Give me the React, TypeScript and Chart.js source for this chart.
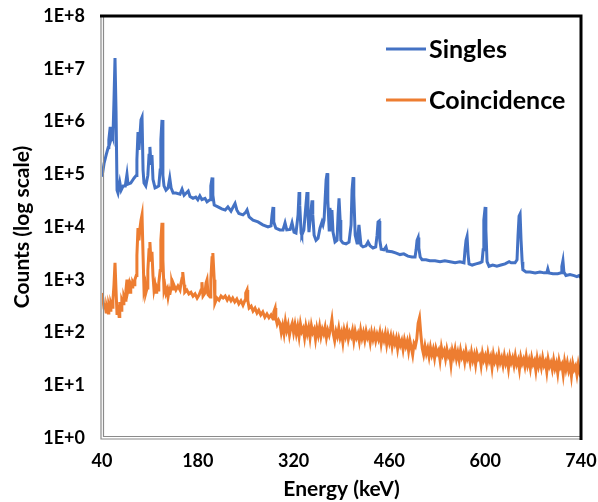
import React, { useEffect, useRef } from 'react';
import { Chart, registerables } from 'chart.js';
Chart.register(...registerables);

const seriesLabels = ['Singles', 'Coincidence'];
const seriesColors = ['#4472C4', '#ED7D31'];
const xTickValues = [40, 180, 320, 460, 600, 740];
const yTickExponents = [0, 1, 2, 3, 4, 5, 6, 7, 8];

const singlesEnergy = [
  40, 43, 46, 49, 50, 52, 53, 55, 56, 57.5,
  59, 60.5, 62, 63.4, 66, 68, 71, 74, 76.5, 78,
  82, 87, 90, 91, 92.6, 94, 95.5, 97, 98.5, 100,
  101.4, 104, 107, 108.7, 110, 111.6, 113, 114.5, 117.5, 120,
  123, 125, 126, 127.7, 129, 130.6, 133.5, 136.5, 139, 141,
  144, 148, 154, 157, 160, 166, 168.6, 173, 177, 180,
  183, 186, 190.5, 193.5, 198, 199, 201, 202, 204, 209.5,
  215, 220, 224, 228.5, 233, 234.4, 237, 240, 246, 250,
  252, 255, 260.7, 268, 275, 282.6, 287, 288.5, 290, 291,
  294, 300, 304.5, 307.5, 310, 315, 317.7, 320.6, 323.5, 326.5,
  328, 329, 331, 332, 335, 338, 339.6, 341, 342.5, 345.5,
  347, 348, 350, 352.8, 355.7, 358.6, 361.5, 363, 364.5, 366,
  367.5, 369, 370, 372, 373, 374.7, 376, 377.6, 380.5, 383.5,
  385, 386.4, 388, 389, 392, 396.6, 401, 404, 405.4, 407,
  408, 410, 412.7, 414, 415.5, 417, 418.5, 421.4, 425.8, 428.8,
  431.7, 436, 440, 442, 443.4, 445, 446, 448, 452, 455,
  456.5, 464, 470, 475.5, 481, 487, 493, 497.5, 499, 500.4,
  502, 503, 505, 507.7, 513.5, 519, 526.7, 534, 541, 548.6,
  556, 563, 569, 570.5, 572, 573.5, 575, 576.4, 581, 586.6,
  592.5, 595.4, 597, 598, 600, 601, 602.7, 605.6, 611, 617,
  623, 629, 635, 638, 643.6, 646.5, 648, 649.5, 651, 652.4,
  654, 655, 659.7, 665.5, 673, 680, 686, 690, 691.5, 693,
  699, 706, 711, 712, 713.6, 715, 718, 724, 730, 734,
  737, 740,
];
const singlesCounts = [
  9e4, 1.6e5, 2.3e5, 3.2e5, 4.5e5, 7.9e5, 4.5e5, 5.5e5, 5e5, 2.5e6,
  1.6e7, 1.6e6, 5e4, 4.4e4, 7e4, 5e4, 6e4, 6e4, 1e5, 6.5e4,
  6.8e4, 8.5e4, 9.5e4, 1.9e5, 6.3e5, 2.9e5, 5.5e5, 1.07e6, 1.2e6, 1.2e5,
  6.8e4, 6e4, 9.5e4, 2.3e5, 3.3e5, 1.5e5, 2.3e5, 8e4, 5.5e4, 5.7e4,
  6e4, 1.2e5, 4.5e5, 1.07e6, 9.5e4, 6e4, 5e4, 5.5e4, 8.5e4, 5.5e4,
  4.4e4, 4.4e4, 4.2e4, 5.2e4, 4e4, 4.8e4, 3.8e4, 3.5e4, 3.7e4, 3.3e4,
  3.9e4, 3.3e4, 3.5e4, 3e4, 3.3e4, 6e4, 8.7e4, 4e4, 2.6e4, 2.4e4,
  2.2e4, 2.1e4, 2.4e4, 2e4, 2.6e4, 2.8e4, 2.1e4, 1.8e4, 1.7e4, 1.9e4,
  2.1e4, 1.55e4, 1.35e4, 1.25e4, 1.1e4, 1e4, 1.05e4, 1.7e4, 2.4e4, 1.25e4,
  9.5e3, 8.8e3, 8.8e3, 1.2e4, 8.8e3, 9e3, 1.2e4, 8e3, 7.7e3, 1.7e4,
  4.6e4, 2.6e4, 7.7e3, 7e3, 8.8e3, 2.6e4, 4.6e4, 1.7e4, 8e3, 2.1e4,
  3.2e4, 1.7e4, 7e3, 5.6e3, 6.1e3, 9.5e3, 1.25e4, 1.1e4, 1.35e4, 3.2e4,
  7.8e4, 1.05e5, 3.2e4, 8.8e3, 2.3e4, 1.7e4, 2.1e4, 8e3, 5.2e3, 5.6e3,
  1.7e4, 3.5e4, 1.35e4, 5.6e3, 5e3, 4.8e3, 5.2e3, 1.1e4, 5e4, 8.8e4,
  4e4, 7e3, 5e3, 7e3, 1.1e4, 7e3, 4.5e3, 4.2e3, 4.4e3, 5.2e3,
  4.4e3, 4e3, 4.2e3, 7e3, 1.25e4, 1.3e4, 5.6e3, 3.8e3, 3.7e3, 4.2e3,
  3.5e3, 3.4e3, 3.2e3, 3e3, 3.1e3, 2.8e3, 2.7e3, 2.7e3, 3.7e3, 5.6e3,
  6.3e3, 4e3, 2.7e3, 2.4e3, 2.4e3, 2.3e3, 2.3e3, 2.2e3, 2.3e3, 2.2e3,
  2.1e3, 2.2e3, 2.1e3, 3.7e3, 5.6e3, 6.6e3, 3e3, 2e3, 1.9e3, 2e3,
  2.1e3, 2.2e3, 3.7e3, 1.35e4, 2.4e4, 8.8e3, 2.2e3, 1.8e3, 1.9e3, 1.8e3,
  1.9e3, 2e3, 2.2e3, 2.1e3, 2.1e3, 2.4e3, 7e3, 1.6e4, 1.76e4, 5.6e3,
  2.2e3, 1.55e3, 1.4e3, 1.4e3, 1.35e3, 1.4e3, 1.35e3, 1.35e3, 1.6e3, 1.35e3,
  1.3e3, 1.3e3, 1.35e3, 1.8e3, 2.3e3, 1.4e3, 1.2e3, 1.25e3, 1.2e3, 1.15e3,
  1.2e3, 1.1e3,
];

const coincLowEnergy = [
  40, 41.5, 43, 44, 46, 47, 49, 50, 52, 53,
  55, 56, 57.5, 59, 60.5, 62, 63.4, 65, 66, 68,
  69, 71, 72, 74, 75, 76.5, 78, 79.5, 81, 82,
  84, 85, 87, 88, 90, 91, 92.6, 94, 95.5, 97,
  98.5, 100, 101.4, 103, 104, 106, 107, 108.7, 110, 111.6,
  113, 114.5, 116, 117.5, 119, 120, 122, 123, 125, 126,
  127.7, 129, 130.6, 132, 133.5, 135, 136.5, 138, 139, 141,
  142, 144, 145, 148, 151, 154, 155.5, 157, 158, 160,
  161, 164, 167, 170, 173, 176, 179, 182, 184.7, 186,
  187.6, 190.5, 192, 193.5, 195, 198, 199, 200.8, 202, 204,
  205, 208, 211, 214, 217, 220, 223, 225.6, 228.5, 231,
  234, 237, 240, 243, 246, 249, 250, 252, 253, 255,
  258, 260.7, 263.6, 266.5, 269, 272, 275, 278, 281, 284,
  287, 290, 291, 293, 294, 296, 298,
];
const coincLowCounts = [
  560, 410, 290, 360, 245, 300, 235, 330, 265, 360,
  300, 410, 800, 2100, 640, 215, 330, 200, 380, 265,
  410, 350, 490, 410, 640, 1000, 640, 800, 580, 830,
  730, 900, 800, 1000, 1200, 2900, 9500, 5600, 9500, 13500,
  17000, 2900, 640, 800, 560, 700, 1500, 3700, 5200, 2200,
  3400, 1200, 640, 800, 580, 730, 640, 870, 1500, 5600,
  12000, 2400, 640, 760, 560, 640, 470, 610, 520, 700,
  870, 670, 800, 640, 760, 640, 870, 1070, 1400, 800,
  580, 640, 540, 580, 490, 540, 450, 520, 640, 900,
  490, 560, 870, 1000, 520, 470, 1000, 2600, 3200, 1000,
  360, 450, 410, 490, 450, 490, 410, 470, 400, 450,
  380, 430, 350, 400, 330, 410, 560, 640, 410, 290,
  315, 255, 290, 235, 265, 215, 245, 195, 225, 190,
  215, 180, 245, 290, 190, 145, 170,
];

const coincGridStart = 300;
const coincGridStep = 2;
const coincGridCounts = [
  150, 100, 135, 95, 160, 110, 140, 90, 125, 150,
  100, 140, 95, 130, 85, 145, 105, 120, 80, 130,
  95, 125, 80, 135, 100, 115, 75, 120, 90, 130,
  85, 115, 95, 125, 80, 110, 90, 120, 175, 95,
  70, 105, 85, 120, 80, 100, 65, 110, 85, 115,
  75, 100, 85, 110, 70, 105, 80, 95, 68, 110,
  78, 100, 72, 105, 80, 95, 65, 100, 75, 98,
  70, 92, 75, 100, 62, 90, 72, 95, 60, 88,
  65, 85, 55, 80, 62, 78, 50, 75, 58, 70,
  48, 72, 55, 68, 45, 70, 52, 38, 62, 55,
  75, 150, 190, 90, 50, 38, 55, 40, 50, 35,
  52, 38, 48, 33, 50, 40, 46, 30, 52, 38,
  45, 32, 48, 36, 42, 25, 45, 35, 48, 32,
  42, 30, 46, 34, 40, 28, 44, 32, 38, 27,
  42, 30, 38, 25, 40, 32, 36, 24, 40, 30,
  36, 26, 40, 29, 35, 22, 38, 28, 34, 25,
  38, 27, 33, 24, 36, 26, 32, 21, 35, 27,
  33, 24, 36, 25, 30, 20, 34, 26, 31, 23,
  35, 24, 30, 21, 33, 25, 29, 19, 32, 23,
  30, 22, 33, 24, 28, 18, 31, 23, 27, 20,
  30, 21, 26, 17, 29, 22, 25, 16, 28, 20,
  27, 19, 24, 15, 26, 20, 23, 16, 25, 18,
  22,
];

const FONT = 'Lato, "Open Sans", sans-serif';

const framePlugin = {
  id: 'frame',
  afterDatasetsDraw(chart: any) {
    const { ctx, chartArea: a } = chart;
    ctx.save();
    ctx.strokeStyle = '#8a8a8a';
    ctx.lineWidth = 1.2;
    ctx.beginPath();
    ctx.moveTo(a.left - 1, a.top);
    ctx.lineTo(a.left - 1, a.bottom + 1);
    ctx.lineTo(a.right, a.bottom + 1);
    ctx.moveTo(a.left + 1.5, a.top);
    ctx.lineTo(a.left + 1.5, a.bottom - 1.5);
    ctx.lineTo(a.right, a.bottom - 1.5);
    ctx.stroke();
    ctx.strokeStyle = '#000';
    ctx.lineWidth = 3;
    ctx.beginPath();
    ctx.moveTo(a.left - 2, a.top);
    ctx.lineTo(a.right, a.top);
    ctx.lineTo(a.right, a.bottom + 2);
    ctx.stroke();
    ctx.restore();
  },
};

const legendPlugin = {
  id: 'insideLegend',
  afterDraw(chart: any) {
    const { ctx } = chart;
    ctx.save();
    const rows = [49, 100];
    chart.data.datasets.forEach((ds: any, i: number) => {
      const y = rows[i];
      ctx.strokeStyle = ds.borderColor;
      ctx.lineWidth = 3;
      ctx.beginPath();
      ctx.moveTo(386, y);
      ctx.lineTo(426, y);
      ctx.stroke();
      ctx.fillStyle = '#000';
      ctx.font = `bold 25px ${FONT}`;
      ctx.textBaseline = 'middle';
      ctx.textAlign = 'left';
      ctx.fillText(ds.label, 429, y + 1);
    });
    ctx.restore();
  },
};

export default function App() {
  const ref = useRef<HTMLCanvasElement>(null);
  useEffect(() => {
    document.body.style.margin = '0';
    const singles = singlesEnergy.map((x, i) => ({ x, y: singlesCounts[i] }));
    const coinc = [
      ...coincLowEnergy.map((x, i) => ({ x, y: coincLowCounts[i] })),
      ...coincGridCounts.map((y, i) => ({ x: coincGridStart + i * coincGridStep, y })),
    ];
    const tickFont = { family: FONT, size: 18, weight: 'bold' as const };
    const titleFont = { family: FONT, size: 21, weight: 'bold' as const };
    const chart = new Chart(ref.current!, {
      type: 'line',
      data: {
        datasets: [
          {
            label: seriesLabels[0],
            data: singles,
            borderColor: seriesColors[0],
            backgroundColor: seriesColors[0],
            borderWidth: 3,
            pointRadius: 0,
            tension: 0,
            fill: false,
          },
          {
            label: seriesLabels[1],
            data: coinc,
            borderColor: seriesColors[1],
            backgroundColor: seriesColors[1],
            borderWidth: 3,
            pointRadius: 0,
            tension: 0,
            fill: false,
          },
        ],
      },
      options: {
        animation: false,
        responsive: false,
        layout: { padding: { top: 16, right: 17, left: 0, bottom: 0 } },
        plugins: { legend: { display: false }, tooltip: { enabled: false } },
        scales: {
          x: {
            type: 'linear',
            min: 40,
            max: 740,
            afterBuildTicks: (axis: any) => {
              axis.ticks = xTickValues.map((v) => ({ value: v }));
            },
            afterFit: (axis: any) => {
              axis.height = 64;
              axis.paddingLeft = 0;
              axis.paddingRight = 0;
            },
            grid: { display: false, drawTicks: false },
            border: { display: false },
            ticks: { font: tickFont, color: '#000', padding: 12, maxRotation: 0, autoSkip: false },
            title: { display: true, text: 'Energy (keV)', font: titleFont, color: '#000', padding: { top: 0, bottom: 0 } },
          },
          y: {
            type: 'logarithmic',
            min: 1,
            max: 1e8,
            afterBuildTicks: (axis: any) => {
              axis.ticks = yTickExponents.map((e) => ({ value: Math.pow(10, e) }));
            },
            afterFit: (axis: any) => {
              axis.width = 102;
              axis.paddingTop = 0;
              axis.paddingBottom = 0;
            },
            grid: { display: false, drawTicks: false },
            border: { display: false },
            ticks: {
              font: tickFont,
              color: '#000',
              padding: 17,
              autoSkip: false,
              callback: (v: any) => '1E+' + Math.round(Math.log10(Number(v))),
            },
            title: { display: true, text: 'Counts (log scale)', font: titleFont, color: '#000', padding: { top: 10, bottom: 0 } },
          },
        },
      },
      plugins: [framePlugin, legendPlugin],
    });
    return () => chart.destroy();
  }, []);
  return <canvas ref={ref} width={598} height={502} style={{ display: 'block' }} />;
}
